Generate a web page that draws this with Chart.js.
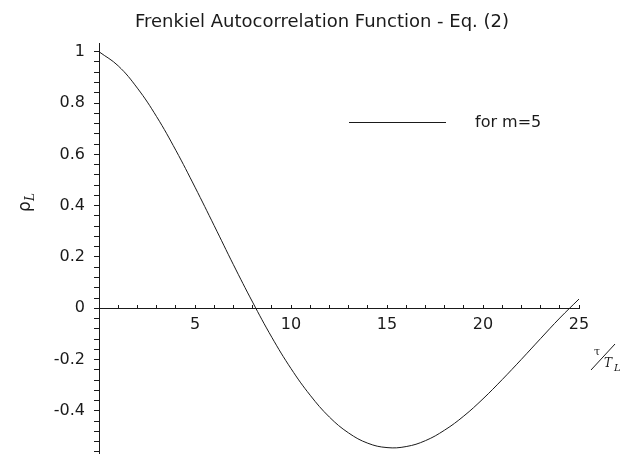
<!DOCTYPE html>
<html>
<head>
<meta charset="UTF-8">
<title>Frenkiel Autocorrelation Function</title>
<script src="https://cdn.jsdelivr.net/npm/chart.js"></script>
<style>
  html, body { margin: 0; padding: 0; background: #fff; }
  #wrap { width: 626px; height: 454px; position: relative; }
</style>
</head>
<body>
<div id="wrap"><canvas id="chart"></canvas></div>
<script>
  // tau / T_L values and the autocorrelation (m = 5)
  const tau = [0, 1, 2, 3, 4, 5, 6, 7, 8, 9, 10, 11, 12, 13, 14, 15, 16, 17, 18, 19, 20, 21, 22, 23, 24, 25];
  const rho = [1, 0.945, 0.858, 0.747, 0.616, 0.472, 0.322, 0.170, 0.024, -0.113, -0.235, -0.339, -0.424,
               -0.486, -0.526, -0.543, -0.539, -0.516, -0.475, -0.420, -0.353, -0.278, -0.199, -0.118, -0.038, 0.036];

  const xMajorTicks = [5, 10, 15, 20, 25];
  const yMajorTicks = [-0.4, -0.2, 0, 0.2, 0.4, 0.6, 0.8, 1];
  const seriesLabel = 'for m=5';
  const chartTitle = 'Frenkiel Autocorrelation Function - Eq. (2)';

  const font = '"DejaVu Sans", Verdana, sans-serif';
  const ink = '#1a1a1a';

  const isMajor = (list, v) => list.some(m => Math.abs(m - v) < 1e-6);

  // no extra room around the axes: layout.padding decides the plot box
  const noPadding = s => { s.paddingTop = 0; s.paddingBottom = 0; s.paddingLeft = 0; s.paddingRight = 0; };

  // title, legend and axis names drawn by hand like the original Maple plot
  const decorations = {
    id: 'decorations',
    afterDraw(chart) {
      const ctx = chart.ctx;
      ctx.save();
      ctx.fillStyle = ink;
      ctx.strokeStyle = ink;

      ctx.font = '18px ' + font;
      ctx.textAlign = 'center';
      ctx.textBaseline = 'middle';
      ctx.fillText(chartTitle, 322, 22);

      ctx.lineWidth = 1;
      ctx.beginPath();
      ctx.moveTo(349, 122.5);
      ctx.lineTo(446, 122.5);
      ctx.stroke();
      ctx.font = '16px ' + font;
      ctx.textAlign = 'left';
      ctx.fillText(seriesLabel, 475, 123);

      // y title: rho with subscript L, rotated
      ctx.save();
      ctx.translate(30, 212);
      ctx.rotate(-Math.PI / 2);
      ctx.textAlign = 'left';
      ctx.textBaseline = 'alphabetic';
      ctx.font = '17px "DejaVu Sans", sans-serif';
      ctx.fillText('ρ', 0, 0);
      ctx.font = 'italic 12px "DejaVu Serif", serif';
      ctx.fillText('L', 11, 4);
      ctx.restore();

      // x title: tau / T_L written as a slanted fraction
      ctx.font = '11px "DejaVu Serif", serif';
      ctx.textAlign = 'left';
      ctx.textBaseline = 'alphabetic';
      ctx.fillText('τ', 594, 355);
      ctx.beginPath();
      ctx.moveTo(591, 370);
      ctx.lineTo(615, 344);
      ctx.stroke();
      ctx.font = 'italic 12px "DejaVu Serif", serif';
      ctx.fillText('T', 604, 367);
      ctx.font = 'italic 10px "DejaVu Serif", serif';
      ctx.fillText('L', 614, 371);
      ctx.restore();
    }
  };

  new Chart(document.getElementById('chart'), {
    type: 'scatter',
    data: {
      datasets: [{
        label: seriesLabel,
        data: tau.map((t, i) => ({ x: t, y: rho[i] })),
        showLine: true,
        borderColor: ink,
        borderWidth: 1,
        pointRadius: 0,
        tension: 0.4,
        fill: false
      }]
    },
    options: {
      responsive: true,
      maintainAspectRatio: false,
      animation: false,
      layout: { padding: { top: 43, right: 47, bottom: 0, left: 0 } },
      plugins: {
        legend: { display: false },
        title: { display: false },
        tooltip: { enabled: false }
      },
      scales: {
        x: {
          type: 'linear',
          position: { y: 0 },
          min: 0,
          max: 25,
          afterFit(scale) { scale.height = 0; noPadding(scale); },
          afterBuildTicks(scale) {
            const t = [];
            for (let v = 0; v <= 25; v++) t.push({ value: v });
            scale.ticks = t;
          },
          ticks: {
            autoSkip: false,
            maxRotation: 0,
            padding: 11,
            color: ink,
            font: { family: font, size: 16 },
            callback: v => isMajor(xMajorTicks, v) ? String(v) : ''
          },
          grid: { drawOnChartArea: false, drawTicks: true, tickLength: -4, color: ink },
          border: { display: true, color: ink, width: 1 }
        },
        y: {
          type: 'linear',
          position: 'left',
          min: -0.568,
          max: 1.034,
          afterFit(scale) { scale.width = 99; noPadding(scale); },
          afterBuildTicks(scale) {
            const t = [];
            for (let i = -14; i <= 25; i++) t.push({ value: Math.round(i * 4) / 100 });
            scale.ticks = t;
          },
          ticks: {
            autoSkip: false,
            padding: 9,
            color: ink,
            font: { family: font, size: 16 },
            callback: v => isMajor(yMajorTicks, v) ? String(yMajorTicks.find(m => Math.abs(m - v) < 1e-6)) : ''
          },
          grid: { drawOnChartArea: false, drawTicks: true, tickLength: 5, color: ink },
          border: { display: true, color: ink, width: 1 }
        }
      }
    },
    plugins: [decorations]
  });
</script>
</body>
</html>
